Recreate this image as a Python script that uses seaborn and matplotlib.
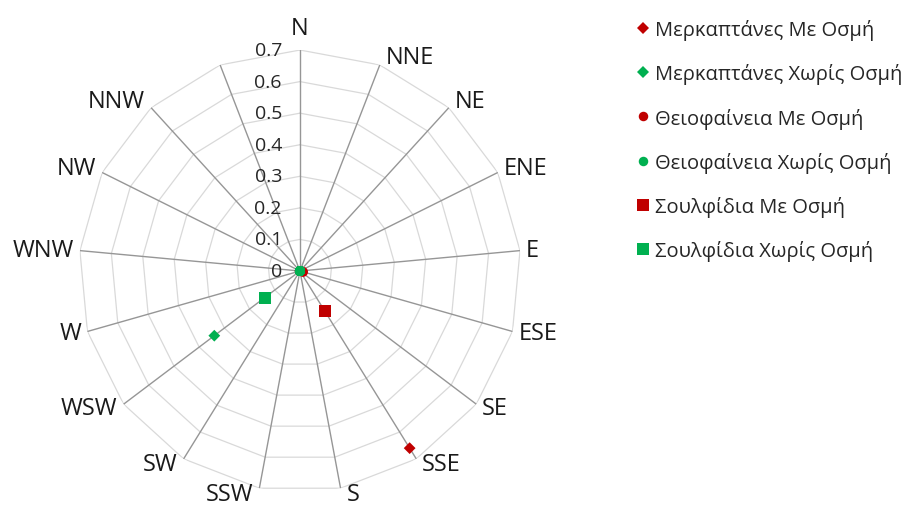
import numpy as np
import pandas as pd
import matplotlib
matplotlib.use("Agg")
import matplotlib.pyplot as plt
import seaborn as sns
from matplotlib.lines import Line2D

sns.set_style("white")
plt.rcParams["font.family"] = ["Open Sans", "DejaVu Sans"]

# Wind directions (17 spokes, the last one unlabelled)
directions = ["N", "NNE", "NE", "ENE", "E", "ESE", "SE", "SSE", "S",
              "SSW", "SW", "WSW", "W", "WNW", "NW", "NNW", ""]

nan = np.nan
merc_odor = [nan, nan, nan, nan, nan, nan, nan, 0.66, nan, nan, nan, nan, nan, nan, nan, nan, nan]
merc_no_odor = [nan, nan, nan, nan, nan, nan, nan, nan, nan, nan, nan, 0.34, nan, nan, nan, nan, nan]
thio_odor = [0, 0, 0, 0, 0, 0.01, 0, 0, 0, 0, 0, 0, 0, 0, 0, 0, 0]
thio_no_odor = [0, 0, 0, 0, 0, 0, 0, 0, 0, 0, 0, 0, 0, 0, 0, 0, 0]
sulf_odor = [nan, nan, nan, nan, nan, nan, nan, 0.15, nan, nan, nan, nan, nan, nan, nan, nan, nan]
sulf_no_odor = [nan, nan, nan, nan, nan, nan, nan, nan, nan, nan, nan, 0.14, nan, nan, nan, nan, nan]

series_names = ["Μερκαπτάνες Με Οσμή", "Μερκαπτάνες Χωρίς Οσμή",
                "Θειοφαίνεια Με Οσμή", "Θειοφαίνεια Χωρίς Οσμή",
                "Σουλφίδια Με Οσμή", "Σουλφίδια Χωρίς Οσμή"]
series_values = [merc_odor, merc_no_odor, thio_odor, thio_no_odor, sulf_odor, sulf_no_odor]

radial_ticks = [0, 0.1, 0.2, 0.3, 0.4, 0.5, 0.6, 0.7]
r_max = 0.7

RED = "#C00000"
GREEN = "#00B050"
styles = [("D", RED, 6.0), ("D", GREEN, 6.0), ("o", RED, 7.2),
          ("o", GREEN, 7.2), ("s", RED, 8.8), ("s", GREEN, 8.8)]

n = len(directions)
theta = np.arange(n) * 2 * np.pi / n

frames = []
for name, vals in zip(series_names, series_values):
    frames.append(pd.DataFrame({"series": name, "theta": theta, "value": vals}))
df = pd.concat(frames, ignore_index=True)

fig = plt.figure(figsize=(9.12, 5.06), dpi=100)
ax = fig.add_axes([0.0866, 0.0257, 0.4846, 0.8735], projection="polar")
ax.set_theta_zero_location("N")
ax.set_theta_direction(-1)
ax.set_ylim(0, r_max)
ax.grid(False)
ax.spines["polar"].set_visible(False)
ax.set_xticks([])
ax.set_yticks([])

# polygonal grid rings
closed = np.append(theta, theta[0])
for r in radial_ticks[1:]:
    ax.plot(closed, [r] * len(closed), color="#D9D9D9", lw=0.9, zorder=1)
# spokes
for t in theta:
    ax.plot([t, t], [0, r_max], color="#969696", lw=1.0, zorder=2)

# markers
for i, (name, (mk, col, ms)) in enumerate(zip(series_names, styles)):
    sub = df[df["series"] == name].dropna()
    sns.scatterplot(data=sub, x="theta", y="value", ax=ax, marker=mk, color=col,
                    s=ms ** 2, edgecolor="none", linewidth=0, legend=False,
                    zorder=3 + i)
ax.set_xlabel("")
ax.set_ylabel("")

# radial value labels along the N spoke
for r in radial_ticks:
    ax.annotate(f"{r:g}", xy=(0, r), xytext=(-18, 0), textcoords="offset pixels",
                ha="right", va="center", fontsize=14, color="#262626",
                annotation_clip=False)

# direction labels
for t, lab in zip(theta, directions):
    if not lab:
        continue
    s, c = np.sin(t), np.cos(t)
    if abs(s) < 0.05:
        ha = "center"
        if c > 0:
            dx, dy, va = 0, 10, "bottom"
        else:
            dx, dy, va = 0, -6, "top"
    else:
        ha = "left" if s > 0 else "right"
        dx = 6 if s > 0 else -6
        dy = 9 * c if c > 0 else 6 * c
        va = "center"
    ax.annotate(lab, xy=(t, r_max), xytext=(dx, dy), textcoords="offset pixels",
                ha=ha, va=va, fontsize=17, color="#1a1a1a", annotation_clip=False)

handles = [Line2D([], [], ls="none", marker=mk, color=col, markersize=ms * 0.95,
                  markeredgewidth=0) for mk, col, ms in styles]
fig.legend(handles, series_names, loc="upper left", bbox_to_anchor=(0.688, 0.976),
           frameon=False, fontsize=14.5, labelspacing=1.15, handletextpad=0.25,
           handlelength=0.7, borderaxespad=0)

fig.savefig("out.png", dpi=100, facecolor="white")
